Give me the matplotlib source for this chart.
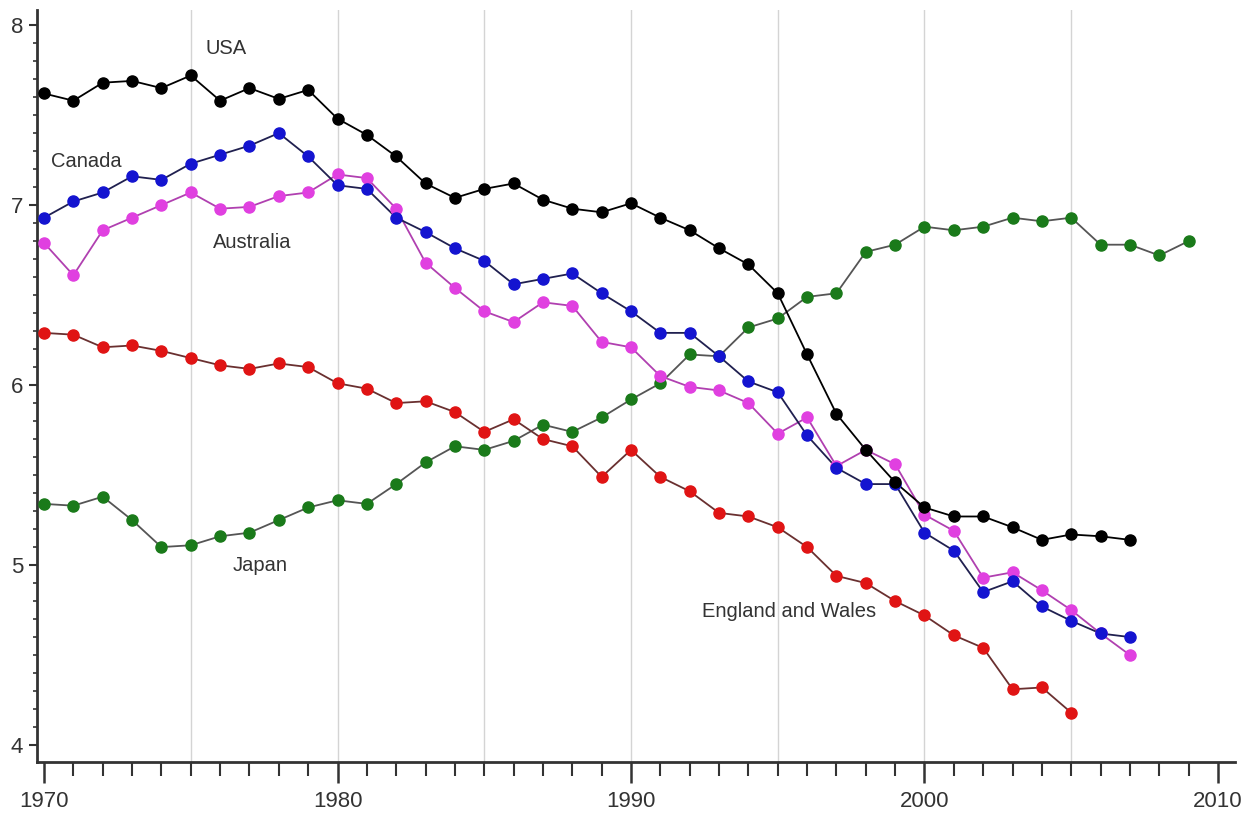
import matplotlib.pyplot as plt
from matplotlib.ticker import MultipleLocator
import numpy as np

plt.rcParams['font.family'] = ['Liberation Sans', 'DejaVu Sans']

usa_years = np.arange(1970, 2008)
usa = [7.62, 7.58, 7.68, 7.69, 7.65, 7.72, 7.58, 7.65, 7.59, 7.64,
       7.48, 7.39, 7.27, 7.12, 7.04, 7.09, 7.12, 7.03, 6.98, 6.96,
       7.01, 6.93, 6.86, 6.76, 6.67, 6.51, 6.17, 5.84, 5.64, 5.46,
       5.32, 5.27, 5.27, 5.21, 5.14, 5.17, 5.16, 5.14]

canada_years = np.arange(1970, 2008)
canada = [6.93, 7.02, 7.07, 7.16, 7.14, 7.23, 7.28, 7.33, 7.40, 7.27,
          7.11, 7.09, 6.93, 6.85, 6.76, 6.69, 6.56, 6.59, 6.62, 6.51,
          6.41, 6.29, 6.29, 6.16, 6.02, 5.96, 5.72, 5.54, 5.45, 5.45,
          5.18, 5.08, 4.85, 4.91, 4.77, 4.69, 4.62, 4.60]

australia_years = np.arange(1970, 2008)
australia = [6.79, 6.61, 6.86, 6.93, 7.00, 7.07, 6.98, 6.99, 7.05, 7.07,
             7.17, 7.15, 6.98, 6.68, 6.54, 6.41, 6.35, 6.46, 6.44, 6.24,
             6.21, 6.05, 5.99, 5.97, 5.90, 5.73, 5.82, 5.55, 5.64, 5.56,
             5.28, 5.19, 4.93, 4.96, 4.86, 4.75, 4.62, 4.50]

ew_years = np.arange(1970, 2006)
england_wales = [6.29, 6.28, 6.21, 6.22, 6.19, 6.15, 6.11, 6.09, 6.12, 6.10,
                 6.01, 5.98, 5.90, 5.91, 5.85, 5.74, 5.81, 5.70, 5.66, 5.49,
                 5.64, 5.49, 5.41, 5.29, 5.27, 5.21, 5.10, 4.94, 4.90, 4.80,
                 4.72, 4.61, 4.54, 4.31, 4.32, 4.18]

japan_years = np.arange(1970, 2010)
japan = [5.34, 5.33, 5.38, 5.25, 5.10, 5.11, 5.16, 5.18, 5.25, 5.32,
         5.36, 5.34, 5.45, 5.57, 5.66, 5.64, 5.69, 5.78, 5.74, 5.82,
         5.92, 6.01, 6.17, 6.16, 6.32, 6.37, 6.49, 6.51, 6.74, 6.78,
         6.88, 6.86, 6.88, 6.93, 6.91, 6.93, 6.78, 6.78, 6.72, 6.80]

series = [
    (japan_years, japan, '#1a7a1a', '#555555'),
    (ew_years, england_wales, '#e01414', '#6a3030'),
    (australia_years, australia, '#e040e0', '#b040b0'),
    (canada_years, canada, '#1414d0', '#202050'),
    (usa_years, usa, '#000000', '#000000'),
]

labels = [('USA', 1976.2, 7.87), ('Canada', 1971.45, 7.24), ('Australia', 1977.1, 6.79),
          ('Japan', 1977.35, 5.0), ('England and Wales', 1995.4, 4.74)]

fig = plt.figure(figsize=(12.49, 8.19), dpi=100)
ax = fig.add_axes([0.0296, 0.0696, 0.9592, 0.918])

for yr in range(1975, 2010, 5):
    ax.axvline(yr, color='#d4d4d4', lw=1, zorder=0)

for yrs, vals, mc, lc in series:
    ax.plot(yrs, vals, color=lc, lw=1.3, zorder=2)
    ax.plot(yrs, vals, 'o', color=mc, ms=8, mec=mc, zorder=3)

for txt, x, y in labels:
    ax.text(x, y, txt, fontsize=14.5, color='#333333', ha='center', va='center')

ax.set_xlim(1969.76, 2010.58)
ax.set_ylim(3.906, 8.083)
ax.set_xticks([1970, 1980, 1990, 2000, 2010])
ax.xaxis.set_minor_locator(MultipleLocator(1))
ax.set_yticks([4, 5, 6, 7, 8])
ax.yaxis.set_minor_locator(MultipleLocator(0.1))

for s in ['top', 'right']:
    ax.spines[s].set_visible(False)
for s in ['left', 'bottom']:
    ax.spines[s].set_color('#333333')
    ax.spines[s].set_linewidth(2)

ax.tick_params(axis='x', which='major', length=15, width=1.8, color='#333333',
               labelsize=16, labelcolor='#333333', pad=6)
ax.tick_params(axis='x', which='minor', length=10, width=1.5, color='#333333')
ax.tick_params(axis='y', which='major', length=6, width=1.5, color='#333333',
               labelsize=16, labelcolor='#333333', pad=4)
ax.tick_params(axis='y', which='minor', length=3, width=1.2, color='#333333')

fig.savefig('out.png', dpi=100)
